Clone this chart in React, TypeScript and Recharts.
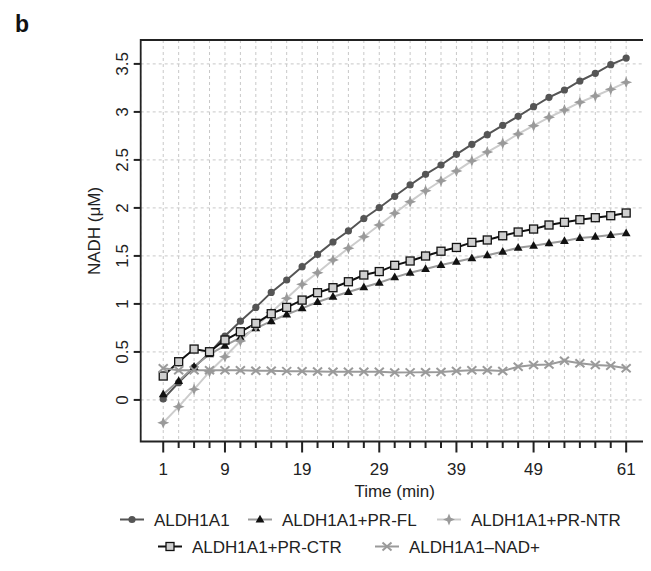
import React from "react";
import { LineChart, Line, XAxis, YAxis, CartesianGrid, ReferenceArea } from "recharts";

// time points (min)
const TIME = [1, 3, 5, 7, 9, 11, 13, 15, 17, 19, 21, 23, 25, 27, 29, 31, 33, 35, 37, 39, 41, 43, 45, 47, 49, 51, 53, 55, 57, 59, 61];
const X_LABELED = [1, 9, 19, 29, 39, 49, 61];
const Y_TICKS = [0, 0.5, 1, 1.5, 2, 2.5, 3, 3.5];

// NADH (uM) per series
const ALDH1A1 = [0.01, 0.18, 0.34, 0.49, 0.666, 0.82, 0.964, 1.12, 1.249, 1.388, 1.516, 1.645, 1.76, 1.89, 2.002, 2.121, 2.239, 2.35, 2.447, 2.558, 2.662, 2.763, 2.86, 2.954, 3.054, 3.152, 3.228, 3.322, 3.402, 3.492, 3.561];
const PR_FL = [0.058, 0.197, 0.346, 0.475, 0.565, 0.65, 0.746, 0.82, 0.89, 0.954, 1.02, 1.075, 1.124, 1.173, 1.221, 1.277, 1.325, 1.364, 1.405, 1.44, 1.475, 1.506, 1.544, 1.585, 1.606, 1.631, 1.655, 1.686, 1.7, 1.718, 1.735];
const PR_NTR = [-0.237, -0.07, 0.11, 0.294, 0.45, 0.614, 0.763, 0.91, 1.058, 1.204, 1.325, 1.457, 1.58, 1.7, 1.822, 1.944, 2.065, 2.179, 2.283, 2.384, 2.49, 2.582, 2.673, 2.77, 2.856, 2.944, 3.02, 3.1, 3.166, 3.235, 3.308];
const PR_CTR = [0.249, 0.398, 0.53, 0.502, 0.624, 0.71, 0.798, 0.898, 0.964, 1.04, 1.117, 1.169, 1.231, 1.301, 1.337, 1.402, 1.447, 1.499, 1.549, 1.588, 1.641, 1.666, 1.71, 1.749, 1.78, 1.822, 1.85, 1.877, 1.898, 1.919, 1.947];
const NO_NAD = [0.329, 0.31, 0.31, 0.31, 0.31, 0.31, 0.305, 0.303, 0.3, 0.298, 0.296, 0.294, 0.293, 0.293, 0.294, 0.285, 0.287, 0.288, 0.29, 0.302, 0.309, 0.309, 0.302, 0.346, 0.363, 0.37, 0.408, 0.381, 0.363, 0.356, 0.329];

const data = TIME.map((t, i) => ({
  t,
  a: ALDH1A1[i],
  fl: PR_FL[i],
  ntr: PR_NTR[i],
  ctr: PR_CTR[i],
  nad: NO_NAD[i],
}));

const X_DOMAIN: [number, number] = [-1.92, 63.92];
const Y_DOMAIN: [number, number] = [-0.433, 3.749];

const W = 643;
const H = 563;
const PLOT_LEFT = 132.7;
const PLOT_BOTTOM = 433.5;
const FONT = "'Liberation Sans', Arial, sans-serif";
const FS = 17;
const INK = "#222";

// marker shapes
const Dot = ({ cx, cy }: any) => <circle cx={cx} cy={cy} r={3.6} fill="#555" />;
const Tri = ({ cx, cy }: any) => (
  <polygon points={`${cx},${cy - 4.8} ${cx + 4.4},${cy + 3} ${cx - 4.4},${cy + 3}`} fill="#111" />
);
const Star = ({ cx, cy }: any) => {
  const r = 6, s = 1.7;
  return (
    <polygon
      points={`${cx},${cy - r} ${cx + s},${cy - s} ${cx + r},${cy} ${cx + s},${cy + s} ${cx},${cy + r} ${cx - s},${cy + s} ${cx - r},${cy} ${cx - s},${cy - s}`}
      fill="#9a9a9a"
    />
  );
};
const Square = ({ cx, cy }: any) => (
  <rect x={cx - 4} y={cy - 4} width={8} height={8} fill="#cfcfcf" stroke="#111" strokeWidth={1.3} />
);
const Cross = ({ cx, cy }: any) => (
  <g stroke="#9a9a9a" strokeWidth={2}>
    <line x1={cx - 4.5} y1={cy - 4} x2={cx + 4.5} y2={cy + 4} />
    <line x1={cx - 4.5} y1={cy + 4} x2={cx + 4.5} y2={cy - 4} />
  </g>
);

const SERIES = [
  { key: "a", name: "ALDH1A1", stroke: "#555", Marker: Dot },
  { key: "fl", name: "ALDH1A1+PR-FL", stroke: "#9a9a9a", Marker: Tri },
  { key: "ntr", name: "ALDH1A1+PR-NTR", stroke: "#cccccc", Marker: Star },
  { key: "ctr", name: "ALDH1A1+PR-CTR", stroke: "#111", Marker: Square },
  { key: "nad", name: "ALDH1A1\u2013NAD+", stroke: "#9a9a9a", Marker: Cross },
];

// legend spots (chart coords): text start x, baseline y
const LEGEND_POS = [
  { x: 146, y: 517.5 },
  { x: 274, y: 517.5 },
  { x: 463, y: 517.5 },
  { x: 184, y: 544.5 },
  { x: 401, y: 544.5 },
];

const XTick = ({ x, payload }: any) => {
  const major = X_LABELED.includes(payload.value);
  return (
    <g>
      <line x1={x} x2={x} y1={PLOT_BOTTOM} y2={PLOT_BOTTOM + (major ? 11 : 6.5)} stroke={INK} strokeWidth={2} />
      {major && (
        <text x={x} y={466.5} textAnchor="middle" fontSize={FS} fontFamily={FONT} fill={INK}>
          {payload.value}
        </text>
      )}
    </g>
  );
};

const YTick = ({ y, payload }: any) => (
  <g>
    <line x1={PLOT_LEFT - 7} x2={PLOT_LEFT} y1={y} y2={y} stroke={INK} strokeWidth={2} />
    <text
      x={120}
      y={y}
      transform={`rotate(-90 120 ${y})`}
      textAnchor="middle"
      fontSize={FS}
      fontFamily={FONT}
      fill={INK}
    >
      {payload.value}
    </text>
  </g>
);

const LegendItems = () => (
  <g fontFamily={FONT} fontSize={FS} fill={INK}>
    {SERIES.map((s, i) => {
      const p = LEGEND_POS[i];
      const cy = p.y - 6;
      const M = s.Marker;
      return (
        <g key={s.key}>
          <line x1={p.x - 34} x2={p.x - 10} y1={cy} y2={cy} stroke={s.stroke} strokeWidth={2} />
          <M cx={p.x - 22} cy={cy} />
          <text x={p.x} y={p.y}>{s.name}</text>
        </g>
      );
    })}
  </g>
);

export default function App() {
  return (
    <LineChart
      width={W}
      height={H}
      data={data}
      margin={{ top: 32, right: 2.3, left: 0, bottom: 0 }}
      style={{ fontFamily: FONT }}
    >
      <CartesianGrid strokeDasharray="3 3" stroke="#c8c8c8" strokeWidth={1} />
      <XAxis
        dataKey="t"
        type="number"
        domain={X_DOMAIN}
        ticks={TIME}
        allowDataOverflow
        axisLine={false}
        tickLine={false}
        tick={<XTick />}
        interval={0}
        height={129.5}
      />
      <YAxis
        type="number"
        domain={Y_DOMAIN}
        ticks={Y_TICKS}
        allowDataOverflow
        axisLine={false}
        tickLine={false}
        tick={<YTick />}
        interval={0}
        width={PLOT_LEFT}
      />
      {SERIES.map((s) => {
        const M = s.Marker;
        return (
          <Line
            key={s.key}
            dataKey={s.key}
            name={s.name}
            type="linear"
            stroke={s.stroke}
            strokeWidth={2}
            dot={(p: any) => <M key={`${s.key}-${p.index}`} cx={p.cx} cy={p.cy} />}
            activeDot={false}
            isAnimationActive={false}
          />
        );
      })}
      <ReferenceArea
        x1={X_DOMAIN[0]}
        x2={X_DOMAIN[1]}
        y1={Y_DOMAIN[0]}
        y2={Y_DOMAIN[1]}
        fill="none"
        stroke={INK}
        strokeWidth={1.8}
        ifOverflow="visible"
      />
      <text x={7} y={23.7} fontSize={23} fontWeight="bold" fontFamily={FONT} fill="#111">b</text>
      <text x={386.7} y={488.5} textAnchor="middle" fontSize={FS} fontFamily={FONT} fill={INK}>Time (min)</text>
      <text
        x={92}
        y={223}
        transform="rotate(-90 92 223)"
        textAnchor="middle"
        fontSize={FS}
        fontFamily={FONT}
        fill={INK}
      >
        NADH (μM)
      </text>
      <LegendItems />
    </LineChart>
  );
}
